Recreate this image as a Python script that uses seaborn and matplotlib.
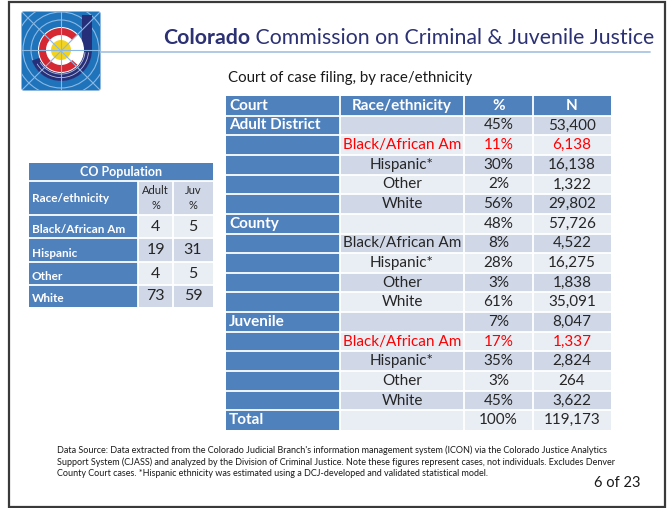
import numpy as np
import matplotlib
matplotlib.use("Agg")
import matplotlib.pyplot as plt
from matplotlib.colors import ListedColormap
from matplotlib.patches import Rectangle, Wedge, Circle, FancyBboxPatch
import seaborn as sns

# ---------------- data ----------------
courts = ["Adult District", "County", "Juvenile"]
races = ["Black/African Am", "Hispanic*", "Other", "White"]
court_pct = [45, 48, 7]
court_n = [53400, 57726, 8047]
adult_pct = [11, 30, 2, 56]
adult_n = [6138, 16138, 1322, 29802]
county_pct = [8, 28, 3, 61]
county_n = [4522, 16275, 1838, 35091]
juvenile_pct = [17, 35, 3, 45]
juvenile_n = [1337, 2824, 264, 3622]
total_pct = 100
total_n = 119173
highlighted = [("Adult District", "Black/African Am"), ("Juvenile", "Black/African Am")]
big_header = ["Court", "Race/ethnicity", "%", "N"]

pop_races = ["Black/African Am", "Hispanic", "Other", "White"]
pop_adult = [4, 19, 4, 73]
pop_juv = [5, 31, 5, 59]

title_bold = "Colorado"
title_rest = " Commission on Criminal & Juvenile Justice"
subtitle = "Court of case filing, by race/ethnicity"
footer_lines = [
    "Data Source: Data extracted from the Colorado Judicial Branch's information management system (ICON) via the Colorado Justice Analytics",
    "Support System (CJASS) and analyzed by the Division of Criminal Justice. Note these figures represent cases, not individuals. Excludes Denver",
    "County Court cases. *Hispanic ethnicity was estimated using a DCJ-developed and validated statistical model.",
]
page_label = "6 of 23"

# ---------------- style ----------------
sns.set_style("white")
plt.rcParams['font.family'] = ['Lato', 'DejaVu Sans']

BLUE = "#4f81bd"
BAND1 = "#d0d8e8"
BAND2 = "#e9edf4"
TXT = "#262626"
RED = "#ff0000"
NAVY = "#2b3173"
cmap = ListedColormap([BLUE, BAND1, BAND2])

W, H = 670, 508
fig = plt.figure(figsize=(W / 100, H / 100), dpi=100)
fig.patch.set_facecolor("white")

# background overlay axes in pixel coordinates
bg = fig.add_axes([0, 0, 1, 1])
bg.set_xlim(0, W)
bg.set_ylim(H, 0)
bg.axis("off")

bg.add_patch(Rectangle((9, 1.5), 656, 505, fill=False, ec="#3a3a3a", lw=1.6))
bg.plot([101, 650], [52, 52], color="#a9c6e2", lw=1.3)

# title
t1 = bg.text(163, 38, title_bold, fontsize=15.3, fontweight="bold", color=NAVY, va="center", ha="left")
fig.canvas.draw()
bb = t1.get_window_extent()
bg.text(163 + bb.width, 38, title_rest, fontsize=15.3, color=NAVY, va="center", ha="left")
bg.text(228, 78, subtitle, fontsize=10.8, color="#1a1a1a", va="center", ha="left")

# logo
sq = FancyBboxPatch((22, 12), 78, 78, boxstyle="round,pad=0.5,rounding_size=2", fc="#1f73ba", ec="none")
bg.add_patch(sq)
cx, cy = 61, 50
light = "#8ab8e4"
arts = []
for r in [14, 22, 30, 38, 46]:
    arts.append(bg.add_patch(Circle((cx, cy), r, fill=False, ec=light, lw=0.8)))
arts += bg.plot([cx, cx], [11, 91], color=light, lw=0.8)
arts += bg.plot([21, 101], [cy, cy], color=light, lw=0.8)
arts += bg.plot([22, 100], [12, 90], color=light, lw=0.8)
arts += bg.plot([22, 100], [90, 12], color=light, lw=0.8)
for a in arts:
    a.set_clip_path(sq)
# J
bg.add_patch(Wedge((cx, cy), 31, 0, 160, width=10, fc="#26307a", ec="none"))
bg.add_patch(Rectangle((82, 15), 10, 35, fc="#26307a", ec="none"))
for r in [24.5, 28]:
    bg.add_patch(Wedge((cx, cy), r, 5, 150, width=0.8, fc="white", ec="none", alpha=0.7))
# red C and yellow disc
bg.add_patch(Circle((cx, cy), 23, fc="white", ec="none"))
bg.add_patch(Wedge((cx, cy), 22, 42, 318, width=7, fc="#d52832", ec="none"))
bg.add_patch(Circle((cx, cy), 10, fc="#f5d31b", ec="none"))

# footer
for i, line in enumerate(footer_lines):
    bg.text(57, 450 + 12 * i, line, fontsize=6.5, color="#1a1a1a", va="center", ha="left")
bg.text(641, 483, page_label, fontsize=10.5, color="#1a1a1a", va="center", ha="right")


def table_axes(x0, y0, x1, y1):
    return fig.add_axes([x0 / W, 1 - y1 / H, (x1 - x0) / W, (y1 - y0) / H])


def draw_grid(ax, codes, row_h, col_w):
    mat = np.repeat(np.repeat(np.asarray(codes), row_h, axis=0), col_w, axis=1)
    sns.heatmap(mat, ax=ax, cmap=cmap, vmin=-0.5, vmax=2.5, cbar=False,
                xticklabels=False, yticklabels=False, linewidths=0, rasterized=True)
    ax.set_xlabel("")
    ax.set_ylabel("")
    xe = np.concatenate([[0], np.cumsum(col_w)])
    ye = np.concatenate([[0], np.cumsum(row_h)])
    return xe, ye


# ---------------- big table ----------------
pct_by_court = {"Adult District": adult_pct, "County": county_pct, "Juvenile": juvenile_pct}
n_by_court = {"Adult District": adult_n, "County": county_n, "Juvenile": juvenile_n}
rows = [(big_header, "head")]
for c, cp, cn in zip(courts, court_pct, court_n):
    rows.append(([c, "", f"{cp}%", f"{cn:,}"], "court"))
    for r, p, n in zip(races, pct_by_court[c], n_by_court[c]):
        kind = "hi" if (c, r) in highlighted else "race"
        rows.append((["", r, f"{p}%", f"{n:,}"], kind))
rows.append((["Total", "", f"{total_pct}%", f"{total_n:,}"], "court"))

codes = []
for i in range(len(rows)):
    if i == 0:
        codes.append([0, 0, 0, 0])
    else:
        b = 1 if i % 2 == 1 else 2
        codes.append([0, b, b, b])

axb = table_axes(226, 96, 611, 430)
colw = [114, 124, 69, 78]
xe, ye = draw_grid(axb, codes, [1] * len(rows), colw)
for x in xe[1:-1]:
    axb.vlines(x, 0, len(rows), color="white", lw=1.3)
for y in ye[1:-1]:
    axb.hlines(y, 0, xe[-1], color="white", lw=1.3)

for i, (cells, kind) in enumerate(rows):
    yc = i + 0.5
    for j, txt in enumerate(cells):
        if not txt:
            continue
        if kind == "head" or j == 0:
            ha = "left" if j == 0 else "center"
            x = xe[0] + 3 if j == 0 else (xe[j] + xe[j + 1]) / 2
            axb.text(x, yc, txt, fontsize=11, fontweight="bold", color="white", ha=ha, va="center")
        else:
            col = RED if kind == "hi" else TXT
            axb.text((xe[j] + xe[j + 1]) / 2, yc, txt, fontsize=11, color=col, ha="center", va="center")

# ---------------- CO population table ----------------
sm_rowh = [18, 34, 23, 24, 23, 22]
sm_colw = [109, 35, 40]
sm_codes = [[0, 0, 0], [0, 1, 1]]
for i in range(len(pop_races)):
    b = 2 if i % 2 == 0 else 1
    sm_codes.append([0, b, b])

axs = table_axes(29, 163, 213, 307)
sxe, sye = draw_grid(axs, sm_codes, sm_rowh, sm_colw)
for x in sxe[1:-1]:
    axs.vlines(x, sye[1], sye[-1], color="white", lw=1.3)
for y in sye[1:-1]:
    axs.hlines(y, 0, sxe[-1], color="white", lw=1.3)

axs.text(sxe[-1] / 2, (sye[0] + sye[1]) / 2, "CO Population", fontsize=9, fontweight="bold",
         color="white", ha="center", va="center")
axs.text(3, (sye[1] + sye[2]) / 2, "Race/ethnicity", fontsize=8.5, fontweight="bold",
         color="white", ha="left", va="center")
axs.text((sxe[1] + sxe[2]) / 2, (sye[1] + sye[2]) / 2, "Adult\n%", fontsize=8, color=TXT,
         ha="center", va="center", linespacing=1.5)
axs.text((sxe[2] + sxe[3]) / 2, (sye[1] + sye[2]) / 2, "Juv\n%", fontsize=8, color=TXT,
         ha="center", va="center", linespacing=1.5)
for i, (r, a, jv) in enumerate(zip(pop_races, pop_adult, pop_juv)):
    y0, y1 = sye[i + 2], sye[i + 3]
    axs.text(3, y1 - 3, r, fontsize=8.5, fontweight="bold", color="white", ha="left", va="bottom")
    axs.text((sxe[1] + sxe[2]) / 2, (y0 + y1) / 2, str(a), fontsize=11.5, color=TXT, ha="center", va="center")
    axs.text((sxe[2] + sxe[3]) / 2, (y0 + y1) / 2, str(jv), fontsize=11.5, color=TXT, ha="center", va="center")

fig.savefig("out.png", dpi=100, facecolor="white")
